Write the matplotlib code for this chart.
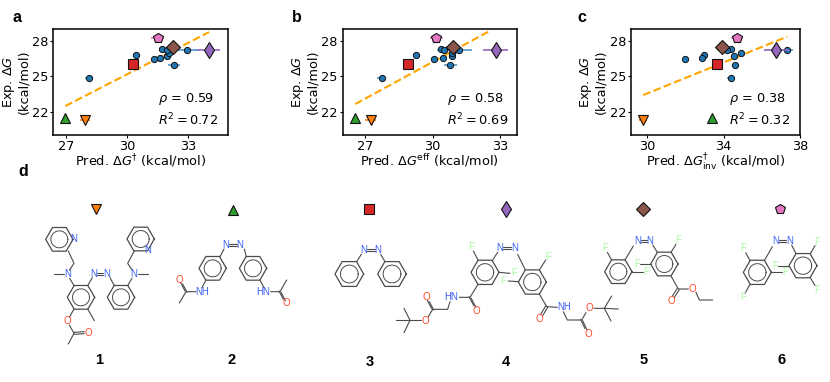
import numpy as np
import matplotlib
matplotlib.use("Agg")
import matplotlib.pyplot as plt

W, H = 830, 382
BLUE, ORANGE, GREEN, RED, PURPLE, BROWN, PINK = "#1f77b4", "#ff7f0e", "#2ca02c", "#d62728", "#9467bd", "#8c564b", "#e377c2"

# ---- data -------------------------------------------------------------
exp_blue = [24.86, 26.78, 26.5, 26.58, 26.72, 27.32, 27.0, 27.24, 27.2, 25.99]
exp_special = [21.3, 21.48, 26.07, 27.23, 27.46, 28.25]  # compounds 1..6

a_blue = [28.16, 30.43, 31.35, 31.64, 31.95, 31.72, 32.08, 31.95, 32.95, 32.3]
a_blue_err = [0.2, 0.08, 0.1, 0.1, 0.15, 0.15, 0.2, 0.3, 0.6, 0.3]
a_special = [27.95, 26.98, 30.3, 34.0, 32.28, 31.5]
a_special_err = [0.25, 0.1, 0.05, 0.57, 0.3, 0.3]
a_fit_x, a_fit_y = [26.98, 34.03], [22.48, 28.76]

b_blue = [27.74, 29.28, 30.08, 30.44, 30.88, 30.36, 30.88, 30.5, 31.19, 30.79]
b_blue_err = [0.2, 0.08, 0.1, 0.1, 0.15, 0.12, 0.2, 0.3, 0.55, 0.3]
b_special = [27.25, 26.56, 28.91, 32.81, 30.91, 30.17]
b_special_err = [0.25, 0.1, 0.05, 0.55, 0.3, 0.3]
b_fit_x, b_fit_y = [26.56, 32.61], [22.65, 28.93]

c_blue = [34.4, 32.96, 31.98, 32.85, 34.53, 34.4, 34.92, 34.2, 37.31, 34.6]
c_blue_err = [0.2, 0.05, 0.05, 0.05, 0.1, 0.05, 0.1, 0.2, 0.3, 0.1]
c_special = [29.79, 33.4, 33.63, 36.76, 33.93, 34.71]
c_special_err = [0.2, 0.05, 0.05, 0.65, 0.1, 0.3]
c_fit_x, c_fit_y = [29.79, 37.33], [23.41, 28.37]

labels_x = [r"Pred. $\Delta G^{\dagger}$ (kcal/mol)", r"Pred. $\Delta G^{\mathrm{eff}}$ (kcal/mol)",
            r"Pred. $\Delta G^{\dagger}_{\mathrm{inv}}$ (kcal/mol)"]
rho_text = ["0.59", "0.58", "0.38"]
r2_text = ["0.72", "0.69", "0.32"]
xticks = [[27, 30, 33], [27, 30, 33], [30, 34, 38]]
yticks = [22, 25, 28]
xlims = [(26.39, 34.97), (26.0, 33.74), (29.15, 38.0)]
compound_names = ["1", "2", "3", "4", "5", "6"]

special_colors = [ORANGE, GREEN, RED, PURPLE, BROWN, PINK]
special_markers = ["v", "^", "s", "d", "D", "p"]
special_sizes = [7, 7, 7, 8, 7, 7]

boxes = [(53.3, 228.3), (342.7, 516.7), (631, 800)]
panel_txt_x = [0.60, 0.60, 0.58]
ylabel_x = [-0.133, -0.136, -0.142]

fig = plt.figure(figsize=(W / 100, H / 100), dpi=100)
plt.rcParams["mathtext.default"] = "it"

series = [(a_blue, a_blue_err, a_special, a_special_err, a_fit_x, a_fit_y),
          (b_blue, b_blue_err, b_special, b_special_err, b_fit_x, b_fit_y),
          (c_blue, c_blue_err, c_special, c_special_err, c_fit_x, c_fit_y)]

FS = 9.3
for i, (bx, by, sx, sxe, fx, fy) in enumerate(series):
    x0, x1 = boxes[i]
    ax = fig.add_axes([x0 / W, 1 - 135 / H, (x1 - x0) / W, 106 / H])
    ax.errorbar(bx, exp_blue, xerr=by, fmt="none", ecolor=BLUE, alpha=0.75, elinewidth=1.2, zorder=2)
    ax.plot(bx, exp_blue, "o", color=BLUE, mec="#111111", mew=0.7, ms=4.5, zorder=3, ls="none")
    ax.plot(fx, fy, "--", color="orange", lw=1.5, zorder=2.5)
    for x, xe, y, c, m, s in zip(sx, sxe, exp_special, special_colors, special_markers, special_sizes):
        ax.errorbar([x], [y], xerr=[xe], fmt="none", ecolor=c, elinewidth=1.2, zorder=3.5)
        ax.plot([x], [y], m, color=c, mec="#111111", mew=0.8, ms=s, zorder=4)
    ax.set_xlim(*xlims[i])
    ax.set_ylim(20.02, 29.02)
    ax.set_xticks(xticks[i])
    ax.set_yticks(yticks)
    ax.tick_params(labelsize=FS, length=2.5, width=0.8, pad=1.0)
    for sp in ax.spines.values():
        sp.set_linewidth(1.1)
    ax.set_xlabel(labels_x[i], fontsize=FS, labelpad=-0.5)
    ax.set_ylabel("Exp. $\\Delta G$\n(kcal/mol)", fontsize=FS, linespacing=1.05)
    ax.yaxis.set_label_coords(ylabel_x[i], 0.5)
    ax.text(panel_txt_x[i], 0.34, r"$\rho$ = " + rho_text[i], transform=ax.transAxes, fontsize=FS, va="center")
    ax.text(panel_txt_x[i], 0.14, r"$R^2 = $" + r2_text[i], transform=ax.transAxes, fontsize=FS, va="center")

# ---- overlay with the drawn structures, in pixel units ------------------
ov = fig.add_axes([0, 0, 1, 1], facecolor="none")
ov.set_xlim(0, W)
ov.set_ylim(H, 0)
ov.axis("off")

GREY = "#4a4a4a"
NC, OC, FC = "#3a5cf5", "#ff4a2a", "#a8f8a0"

for x, y, t in [(16.5, 18, "a"), (296.5, 18, "b"), (582, 17, "c"), (23, 171, "d")]:
    ov.text(x, y, t, fontsize=11.5, fontweight="bold", ha="center", va="center", family="Liberation Sans")


class Mol:
    def __init__(self, ox):
        self.ox, self.oy = ox, 165

    def p(self, x, y):
        return self.ox + x / 3, self.oy + y / 3

    def bonds(self, *paths):
        for path in paths:
            xs, ys = zip(*[self.p(*q) for q in path])
            ov.plot(xs, ys, color=GREY, lw=0.8, solid_capstyle="round", zorder=2)

    def ring(self, cx, cy, r=41):
        ang = np.deg2rad(np.arange(0, 361, 60))
        xs, ys = self.p(cx + r * np.cos(ang), cy + r * np.sin(ang))
        ov.plot(xs, ys, color=GREY, lw=0.9, zorder=2)
        t = np.linspace(0, 2 * np.pi, 60)
        xs, ys = self.p(cx + 0.62 * r * np.cos(t), cy + 0.62 * r * np.sin(t))
        ov.plot(xs, ys, color=GREY, lw=0.7, zorder=2)

    def atoms(self, col, *items):
        for x, y, t in items:
            px, py = self.p(x, y)
            ov.text(px, py, t, color=col, fontsize=7, ha="center", va="center", zorder=3,
                    family="Liberation Sans")

    def azo(self, x1, x2, y):
        self.atoms(NC, (x1, y, "N"), (x2, y, "N"))
        self.bonds([(x1 + 10, y - 3), (x2 - 10, y - 3)], [(x1 + 10, y + 3), (x2 - 10, y + 3)])

    def dbl(self, a, b, off=(3, 2)):
        self.bonds([(a[0] - off[0], a[1] - off[1]), (b[0] - off[0], b[1] - off[1])],
                   [(a[0] + off[0], a[1] + off[1]), (b[0] + off[0], b[1] + off[1])])


# compound 1 and 2
m = Mol(0)
for c in [(178, 223), (422, 222), (243, 397), (363, 397), (638, 310), (759, 310)]:
    m.ring(*c)
m.azo(282, 320, 327)
m.atoms(NC, (222, 223, "N"), (442, 256, "N"), (202, 327, "N"), (402, 327, "N"))
m.bonds([(205, 258), (222, 295), (208, 316)], [(163, 327), (191, 327)], [(209, 340), (222, 362)],
        [(263, 362), (277, 338)], [(330, 338), (343, 362)], [(383, 362), (396, 340)],
        [(413, 327), (443, 327)], [(396, 315), (383, 295), (403, 258)],
        [(263, 432), (283, 467)], [(222, 432), (208, 457)], [(208, 480), (222, 505), (205, 537)])
m.dbl((222, 505), (253, 503), (0, 3))
m.atoms(OC, (203, 468, "O"), (264, 503, "O"))
m.azo(678, 720, 240)
m.atoms(NC, (608, 380, "NH"), (790, 380, "HN"))
m.bonds([(660, 275), (672, 252)], [(733, 252), (739, 275)], [(618, 345), (606, 368)],
        [(588, 380), (558, 380), (538, 414)], [(780, 345), (792, 368)], [(812, 380), (840, 380), (860, 345)])
m.dbl((558, 380), (545, 355))
m.dbl((840, 380), (853, 405))
m.atoms(OC, (538, 345, "O"), (860, 415, "O"))

# compound 3 and 4
m = Mol(330)
m.ring(58, 327, 43)
m.ring(186, 327, 43)
m.azo(102, 144, 254)
m.bonds([(80, 290), (94, 268)], [(152, 268), (165, 290)])
m.ring(465, 322, 42)
m.ring(607, 351, 42)
m.azo(510, 553, 250)
m.atoms(FC, (424, 245, "F"), (552, 325, "F"), (654, 275, "F"), (520, 348, "F"))
m.atoms(NC, (365, 397, "HN"), (703, 427, "NH"))
m.atoms(OC, (438, 437, "O"), (289, 395, "O"), (287, 469, "O"), (627, 463, "O"), (778, 430, "O"), (775, 507, "O"))
m.bonds([(430, 258), (444, 285)], [(488, 285), (503, 262)], [(507, 322), (540, 325)], [(563, 268), (586, 315)],
        [(628, 315), (647, 285)], [(566, 350), (535, 348)], [(444, 358), (420, 397), (388, 397)],
        [(360, 410), (353, 433), (308, 433), (295, 455)], [(272, 466), (240, 466)],
        [(240, 466), (198, 466)], [(240, 466), (222, 430)], [(240, 466), (222, 503)],
        [(628, 387), (650, 425), (682, 427)], [(700, 440), (712, 465), (755, 465), (768, 443)])
m.dbl((420, 397), (435, 425))
m.dbl((650, 425), (635, 450))
m.dbl((308, 433), (295, 408))
m.dbl((755, 465), (768, 493))

# tert-butyl ester that runs on from compound 4, then compounds 5 and 6
m = Mol(580)
m.bonds([(42, 430), (73, 430), (115, 432)], [(73, 430), (95, 393)], [(73, 430), (93, 468)])
m.ring(115, 320, 41)
m.ring(253, 297, 41)
m.azo(172, 210, 227)
m.atoms(OC, (337, 372, "O"), (275, 407, "O"))
m.atoms(FC, (75, 248, "F"), (198, 320, "F"), (295, 226, "F"), (172, 297, "F"))
m.bonds([(95, 285), (82, 262)], [(135, 285), (160, 243)], [(156, 320), (190, 320)], [(218, 240), (232, 262)],
        [(273, 262), (288, 238)], [(212, 297), (180, 297)], [(273, 333), (295, 372), (325, 372)],
        [(348, 382), (358, 405), (398, 405)])
m.dbl((295, 372), (280, 395))
m.ring(532, 322, 42)
m.ring(669, 302, 42)
m.azo(587, 628, 228)
m.atoms(FC, (490, 250, "F"), (615, 322, "F"), (490, 396, "F"), (712, 230, "F"), (587, 302, "F"), (712, 375, "F"))
m.bonds([(510, 287), (497, 263)], [(553, 287), (577, 245)], [(574, 322), (605, 322)], [(510, 358), (495, 385)],
        [(635, 240), (648, 266)], [(691, 266), (705, 242)], [(627, 302), (595, 302)], [(691, 338), (705, 362)])

# marker key and compound numbers
key_x = [96, 232.7, 369.3, 506, 643, 779.5]
key_y = [209, 210, 209, 209, 209, 209]
num_x = [99.5, 232, 369.5, 506, 643.5, 781.5]
num_y = [360, 360, 362, 362, 360, 360]
for kx, ky, c, mk, s, nx, ny, name in zip(key_x, key_y, special_colors, special_markers, special_sizes,
                                          num_x, num_y, compound_names):
    ov.plot([kx], [ky], mk, color=c, mec="#111111", mew=0.8, ms=s)
    ov.text(nx, ny, name, fontsize=10.5, fontweight="bold", ha="center", va="center", family="Liberation Sans")

fig.savefig("out.png", dpi=100)
